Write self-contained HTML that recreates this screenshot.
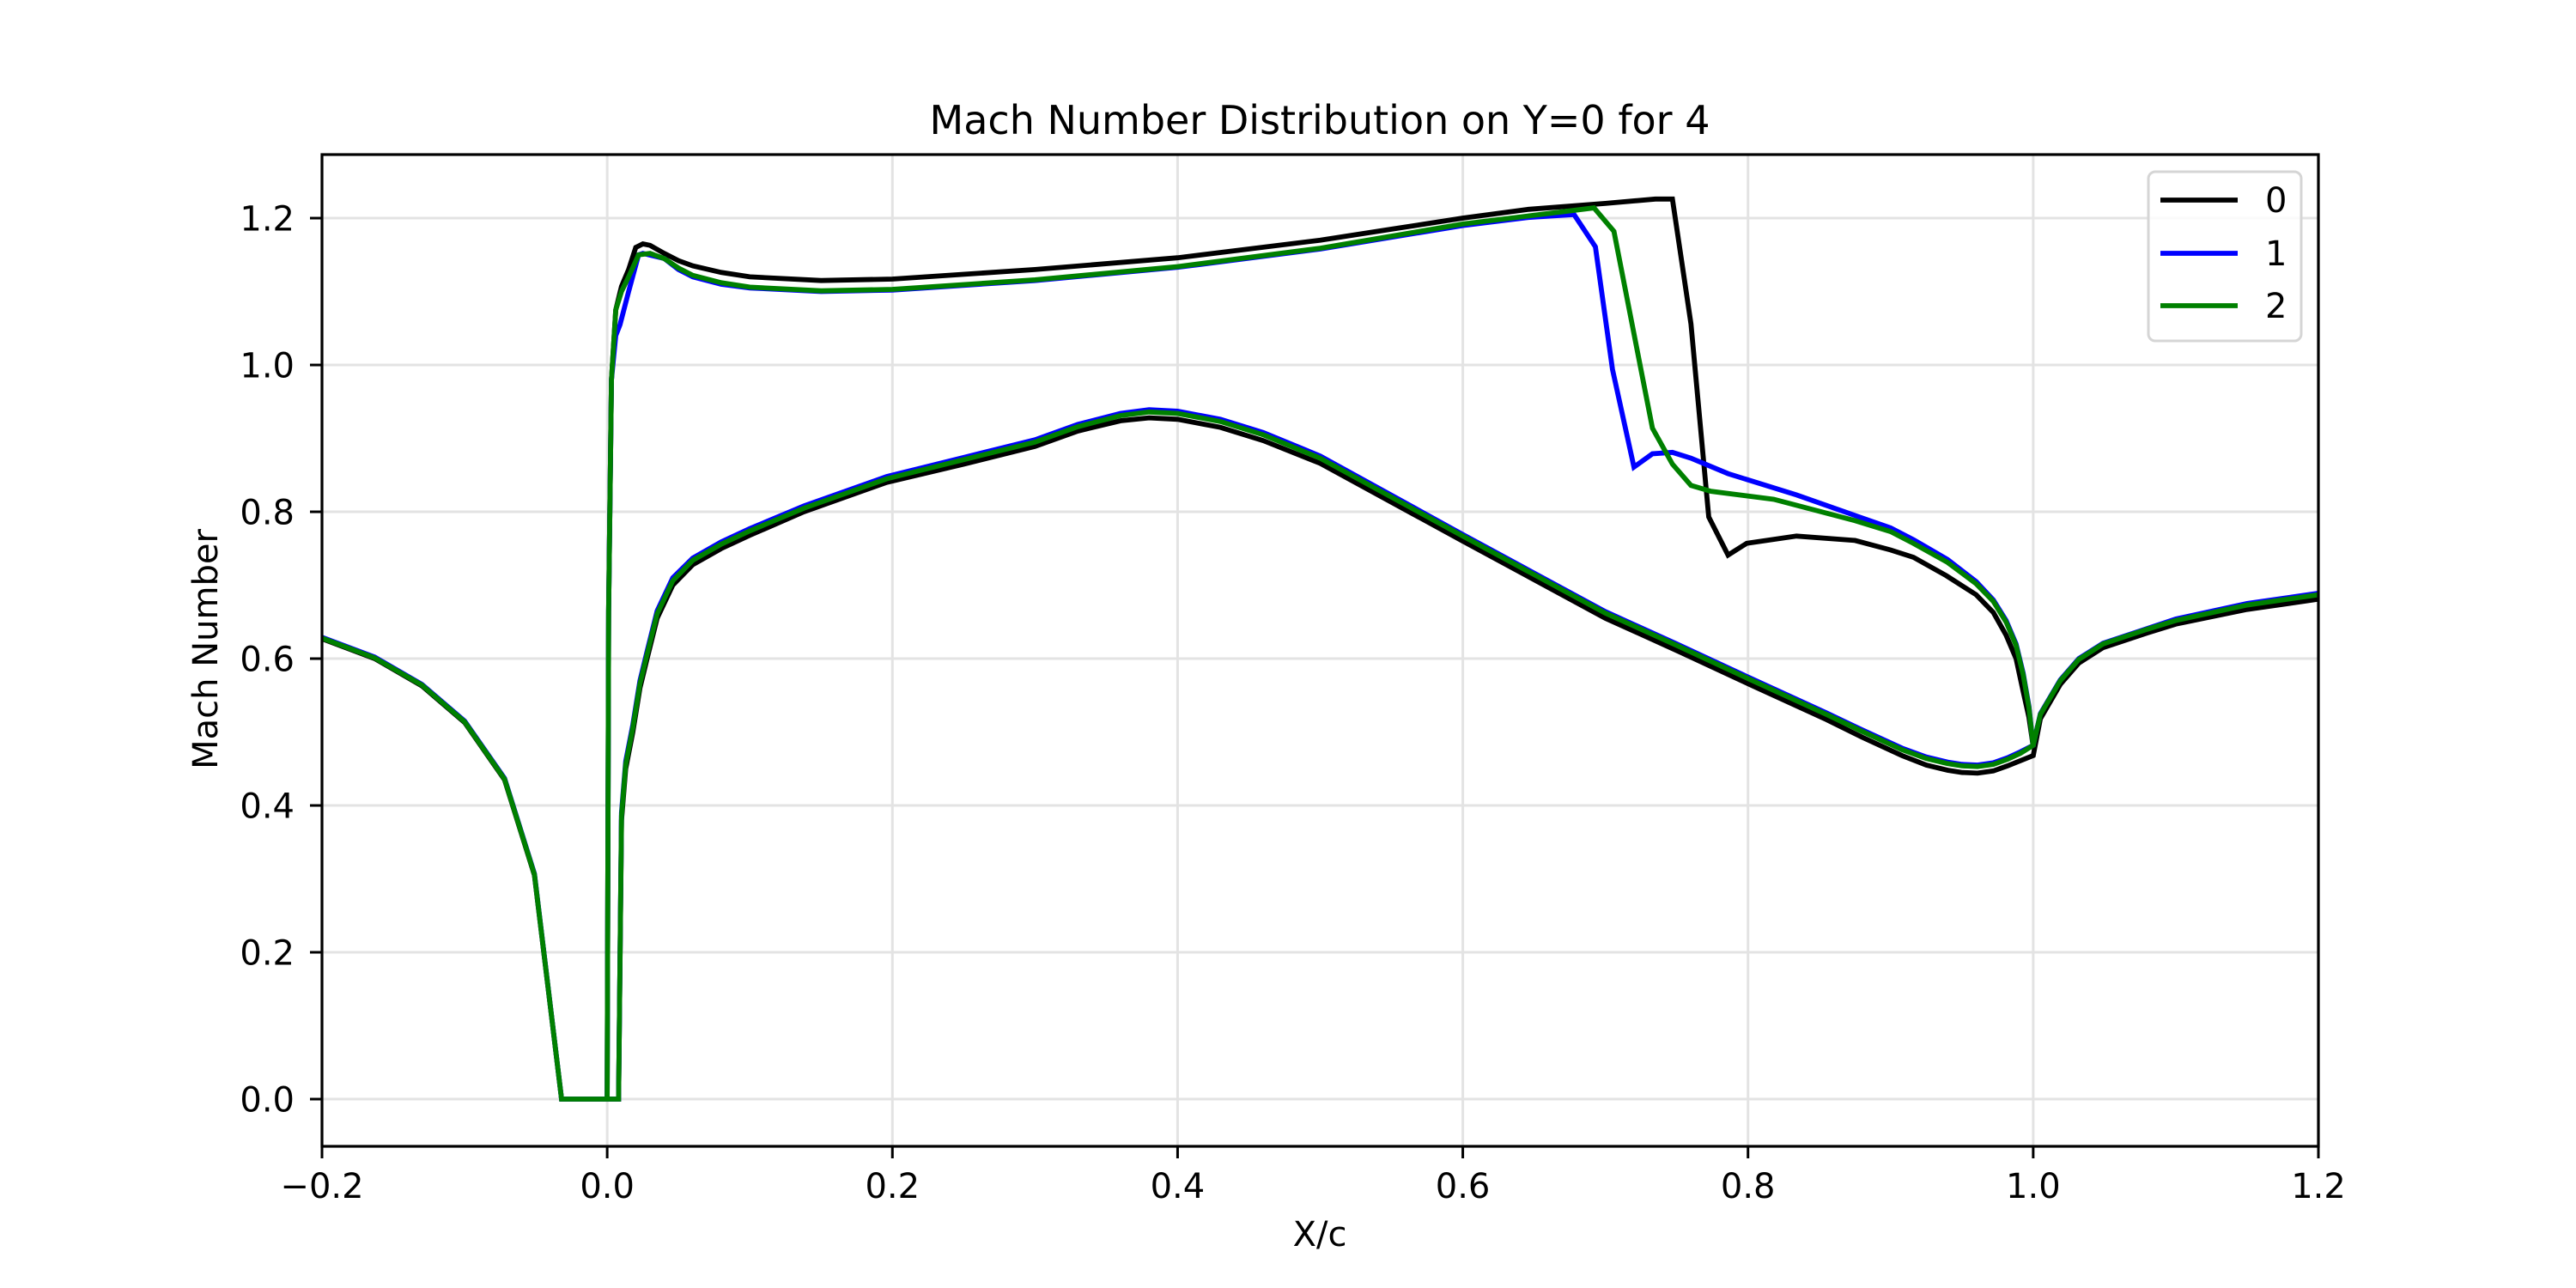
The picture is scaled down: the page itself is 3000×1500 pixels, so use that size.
<!DOCTYPE html>
<html><head><meta charset="utf-8"><style>
html,body{margin:0;padding:0;background:#fff;}
svg{display:block;font-family:"DejaVu Sans","Liberation Sans",sans-serif;}
</style></head><body>
<svg id="chart" width="3000" height="1500" viewBox="0 0 3000 1500" xmlns="http://www.w3.org/2000/svg">
<rect x="0" y="0" width="3000" height="1500" fill="#fff"/>
<g id="grid"></g>
<g id="series"></g>
<g id="axes"></g>
<text x="1537" y="156" font-size="46" text-anchor="middle">Mach Number Distribution on Y=0 for 4</text>
<text x="1537" y="1451" font-size="40" text-anchor="middle">X/c</text>
<text transform="translate(253,756) rotate(-90)" x="0" y="0" font-size="40" text-anchor="middle">Mach Number</text>
<g id="legend">
<rect x="2502" y="200" width="178" height="197" rx="8" fill="#fff" fill-opacity="0.8" stroke="#d5d5d5" stroke-width="3"/>
<line x1="2516" y1="233" x2="2606" y2="233" stroke="#000" stroke-width="5.8"/>
<text x="2638" y="247" font-size="40">0</text>
<line x1="2516" y1="295" x2="2606" y2="295" stroke="#0000ff" stroke-width="5.8"/>
<text x="2638" y="309" font-size="40">1</text>
<line x1="2516" y1="356" x2="2606" y2="356" stroke="#008000" stroke-width="5.8"/>
<text x="2638" y="370" font-size="40">2</text>
</g>
</svg>
<script>
const xTicks = [-0.2, 0.0, 0.2, 0.4, 0.6, 0.8, 1.0, 1.2];
const xTickLabels = ["\u22120.2", "0.0", "0.2", "0.4", "0.6", "0.8", "1.0", "1.2"];
const yTicks = [0.0, 0.2, 0.4, 0.6, 0.8, 1.0, 1.2];
const yTickLabels = ["0.0", "0.2", "0.4", "0.6", "0.8", "1.0", "1.2"];
const seriesNames = ["0", "1", "2"];
const seriesColors = ["#000000", "#0000ff", "#008000"];

const lowerX = [-0.2,-0.163,-0.13,-0.1,-0.072,-0.051,-0.032,0.008,0.010,0.013,0.018,0.023,0.028,0.035,0.046,0.06,0.08,0.1,0.138,0.196,0.25,0.3,0.33,0.36,0.38,0.4,0.43,0.46,0.5,0.6,0.7,0.749,0.801,0.855,0.88,0.908,0.925,0.94,0.95,0.961,0.972,0.982,0.991,1.0,1.005,1.019,1.032,1.049,1.08,1.1,1.15,1.2];
const s0LowerY = [0.627,0.600,0.563,0.513,0.435,0.305,0,0,0.38,0.45,0.5,0.56,0.6,0.655,0.7,0.728,0.75,0.768,0.8,0.84,0.865,0.889,0.91,0.924,0.928,0.926,0.915,0.897,0.866,0.76,0.655,0.612,0.565,0.517,0.493,0.468,0.455,0.448,0.445,0.444,0.447,0.454,0.461,0.468,0.518,0.565,0.594,0.615,0.635,0.647,0.667,0.681];
const s1LowerY = [0.629,0.602,0.565,0.515,0.437,0.307,0,0,0.39,0.46,0.51,0.57,0.61,0.665,0.71,0.737,0.759,0.777,0.808,0.848,0.874,0.898,0.919,0.934,0.939,0.937,0.926,0.908,0.876,0.769,0.664,0.621,0.574,0.526,0.503,0.478,0.466,0.459,0.456,0.455,0.458,0.465,0.473,0.482,0.525,0.571,0.6,0.621,0.641,0.654,0.675,0.689];
const s2LowerY = [0.628,0.601,0.564,0.514,0.436,0.306,0,0,0.386,0.456,0.506,0.566,0.606,0.661,0.706,0.734,0.756,0.774,0.805,0.845,0.871,0.895,0.916,0.931,0.936,0.934,0.923,0.905,0.873,0.767,0.662,0.619,0.572,0.524,0.501,0.476,0.464,0.457,0.454,0.453,0.456,0.463,0.471,0.482,0.524,0.57,0.599,0.62,0.64,0.652,0.673,0.687];

const s0UpperX = [0.0,0.001,0.003,0.006,0.01,0.015,0.02,0.025,0.03,0.04,0.05,0.06,0.08,0.1,0.15,0.2,0.3,0.4,0.5,0.55,0.6,0.646,0.7,0.735,0.747,0.760,0.7725,0.786,0.799,0.834,0.875,0.9,0.916,0.939,0.96,0.972,0.981,0.988,0.993,0.997,1.0];
const s0UpperY = [0,0.665,0.98,1.075,1.107,1.13,1.16,1.165,1.163,1.152,1.142,1.135,1.126,1.12,1.115,1.117,1.13,1.146,1.17,1.185,1.2,1.212,1.22,1.226,1.226,1.056,0.793,0.741,0.757,0.767,0.761,0.748,0.738,0.713,0.687,0.663,0.632,0.6,0.555,0.52,0.48];

const s1UpperX = [0.0,0.001,0.003,0.006,0.009,0.015,0.022,0.025,0.04,0.05,0.06,0.08,0.1,0.15,0.2,0.3,0.4,0.5,0.6,0.646,0.678,0.693,0.705,0.720,0.733,0.747,0.760,0.786,0.834,0.875,0.9,0.916,0.94,0.96,0.972,0.981,0.988,0.993,0.997,1.0];
const s1UpperY = [0,0.665,0.98,1.04,1.055,1.1,1.15,1.152,1.145,1.13,1.12,1.11,1.105,1.1,1.102,1.115,1.133,1.158,1.19,1.201,1.205,1.161,0.994,0.861,0.879,0.881,0.873,0.852,0.823,0.795,0.778,0.762,0.735,0.705,0.68,0.652,0.62,0.58,0.535,0.48];

const s2UpperX = [0.0,0.001,0.003,0.006,0.01,0.015,0.022,0.03,0.04,0.05,0.06,0.08,0.1,0.15,0.2,0.3,0.4,0.5,0.6,0.646,0.692,0.706,0.733,0.747,0.760,0.774,0.818,0.875,0.9,0.916,0.94,0.96,0.972,0.981,0.988,0.993,0.997,1.0];
const s2UpperY = [0,0.665,0.98,1.075,1.1,1.12,1.15,1.152,1.145,1.132,1.122,1.112,1.106,1.101,1.103,1.116,1.134,1.159,1.192,1.203,1.214,1.182,0.914,0.865,0.836,0.828,0.817,0.788,0.773,0.757,0.731,0.702,0.678,0.65,0.618,0.578,0.533,0.48];

const plotL = 375, plotR = 2700, plotT = 180, plotB = 1335;
const xMin = -0.2, xMax = 1.2, yMin = -0.0643, yMax = 1.2866;
function sx(v){ return plotL + (v - xMin) / (xMax - xMin) * (plotR - plotL); }
function sy(v){ return plotB - (v - yMin) / (yMax - yMin) * (plotB - plotT); }
const NS = "http://www.w3.org/2000/svg";
function mk(tag, attrs, parent){
  const el = document.createElementNS(NS, tag);
  for (const k in attrs) el.setAttribute(k, attrs[k]);
  parent.appendChild(el);
  return el;
}
const grid = document.getElementById('grid');
const axes = document.getElementById('axes');
const seriesG = document.getElementById('series');

xTicks.forEach((t, i) => {
  const gl = mk('line', {x1: sx(t), x2: sx(t), y1: plotT, y2: plotB, stroke: '#e3e3e3', 'stroke-width': 3}, grid);
  
  
  const tk = mk('line', {x1: sx(t), x2: sx(t), y1: plotB, y2: plotB + 14, stroke: '#000', 'stroke-width': 3}, axes);
  
  
  const lb = mk('text', {x: sx(t), y: 1395, 'font-size': 40, 'text-anchor': 'middle'}, axes);
  lb.textContent = xTickLabels[i];
  
  
});
yTicks.forEach((t, i) => {
  const gl = mk('line', {x1: plotL, x2: plotR, y1: sy(t), y2: sy(t), stroke: '#e3e3e3', 'stroke-width': 3}, grid);
  
  
  const tk = mk('line', {x1: plotL - 14, x2: plotL, y1: sy(t), y2: sy(t), stroke: '#000', 'stroke-width': 3}, axes);
  
  
  const lb = mk('text', {x: 343, y: sy(t) + 14.5, 'font-size': 40, 'text-anchor': 'end'}, axes);
  lb.textContent = yTickLabels[i];
  
  
});
const frame = mk('rect', {x: plotL, y: plotT, width: plotR - plotL, height: plotB - plotT, fill: 'none', stroke: '#000', 'stroke-width': 3.2}, axes);



const allSeries = [
  [lowerX, s0LowerY, s0UpperX, s0UpperY],
  [lowerX, s1LowerY, s1UpperX, s1UpperY],
  [lowerX, s2LowerY, s2UpperX, s2UpperY]
];
function pts(xs, ys){ return xs.map((x, i) => sx(x).toFixed(1) + ',' + sy(ys[i]).toFixed(1)).join(' '); }
allSeries.forEach((s, k) => {
  const a = mk('polyline', {points: pts(s[0], s[1]), fill: 'none', stroke: seriesColors[k], 'stroke-width': 5.8, 'stroke-linejoin': 'miter', 'stroke-miterlimit': 4}, seriesG);
  
  
  const b = mk('polyline', {points: pts(s[2], s[3]), fill: 'none', stroke: seriesColors[k], 'stroke-width': 5.8, 'stroke-linejoin': 'miter', 'stroke-miterlimit': 4}, seriesG);
  
  
});
</script>
</body></html>
